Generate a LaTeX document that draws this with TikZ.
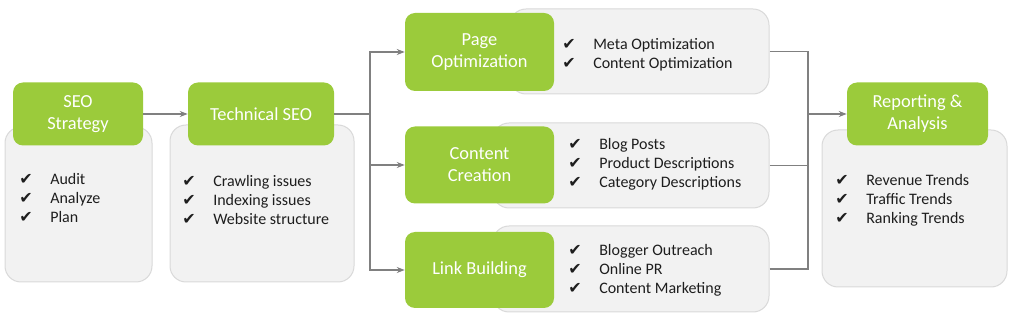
\documentclass[tikz,border=0pt]{standalone}
\usepackage{fontspec}
\setmainfont{Carlito}
\newfontfamily\symfont{DejaVu Sans}
\usetikzlibrary{arrows.meta}

\newcommand{\tickmark}{\makebox[23.25pt][l]{\symfont ✔}}

\begin{document}
\begin{tikzpicture}[x=0.75pt, y=-0.75pt, >={Stealth[length=6pt,width=4.5pt]}]

	% ==========================================
	% 1. COLOURS AND STYLES
	% ==========================================
	\definecolor{leafcol}{RGB}{155, 203, 59}   % green title boxes
	\definecolor{panelcol}{RGB}{242, 242, 242} % light grey panels
	\definecolor{rimcol}{RGB}{217, 217, 217}   % panel border
	\definecolor{wirecol}{RGB}{128, 128, 128}  % connector lines
	\definecolor{inkcol}{RGB}{30, 30, 30}      % list text

	\tikzset{
		titlebox/.style={fill=leafcol, rounded corners=7.5pt, text=white, align=center,
			font=\fontsize{13.8}{16.5}\selectfont, inner sep=0pt},
		panel/.style={fill=panelcol, draw=rimcol, line width=0.75pt, rounded corners=12pt, inner sep=0pt},
		ticklist/.style={anchor=west, align=left, inner sep=0pt, text=inkcol,
			font=\fontsize{12}{14.25}\selectfont},
		wire/.style={draw=wirecol, line width=1.1pt}
	}

	\useasboundingbox (0,0) rectangle (1024,327);

	% ==========================================
	% 2. GREY PANELS (BEHIND)
	% ==========================================
	\node[panel, minimum width=110.25pt, minimum height=116.25pt] (stratbg) at (78.5,204.5) {};
	\node[panel, minimum width=138pt, minimum height=117.75pt] (techbg) at (262,203.5) {};
	\node[panel, minimum width=194.25pt, minimum height=63.75pt] (pagebg) at (639.5,51.5) {};
	\node[panel, minimum width=207pt, minimum height=63.75pt] (contbg) at (631,165.5) {};
	\node[panel, minimum width=207pt, minimum height=64.5pt] (linkbg) at (631,269) {};
	\node[panel, minimum width=138.75pt, minimum height=117.75pt] (reportbg) at (914.5,208.5) {};

	% ==========================================
	% 3. GREEN TITLE BOXES
	% ==========================================
	\node[titlebox, minimum width=97.5pt, minimum height=47.25pt] (strat) at (78,114) {SEO\\Strategy};
	\node[titlebox, minimum width=109.5pt, minimum height=47.25pt] (tech) at (261,114) {Technical SEO};
	\node[titlebox, minimum width=111.75pt, minimum height=58.5pt] (page) at (479.5,52) {Page\\Optimization};
	\node[titlebox, minimum width=111.75pt, minimum height=57.75pt] (cont) at (479.5,165) {Content\\Creation};
	\node[titlebox, minimum width=111.75pt, minimum height=57pt] (link) at (479.5,270) {Link Building};
	\node[titlebox, minimum width=105.75pt, minimum height=47.25pt] (report) at (917.5,114) {Reporting \&\\Analysis};

	% ==========================================
	% 4. CHECK LISTS
	% ==========================================
	\node[ticklist] (stratlist) at (19,198) {\tickmark Audit\\\tickmark Analyze\\\tickmark Plan};
	\node[ticklist] (techlist) at (182,200) {\tickmark Crawling issues\\\tickmark Indexing issues\\\tickmark Website structure};
	\node[ticklist] (pagelist) at (562,54.5) {\tickmark Meta Optimization\\\tickmark Content Optimization};
	\node[ticklist] (contlist) at (568,164) {\tickmark Blog Posts\\\tickmark Product Descriptions\\\tickmark Category Descriptions};
	\node[ticklist] (linklist) at (568,270) {\tickmark Blogger Outreach\\\tickmark Online PR\\\tickmark Content Marketing};
	\node[ticklist] (reportlist) at (835,200) {\tickmark Revenue Trends\\\tickmark Traffic Trends\\\tickmark Ranking Trends};

	% ==========================================
	% 5. CONNECTORS
	% ==========================================
	\coordinate (split) at (370,114);
	\coordinate (merge) at (808,114);

	\draw[wire, ->] (strat) -- (tech);
	\draw[wire] (tech) -- (split);
	\draw[wire, ->] (split) |- (page);
	\draw[wire, ->] (split) |- (cont);
	\draw[wire, ->] (split) |- (link);

	\draw[wire] (pagebg.east) -| (merge);
	\draw[wire] (contbg.east) -| (merge);
	\draw[wire] (linkbg.east) -| (merge);
	\draw[wire, ->] (merge) -- (report);

\end{tikzpicture}
\end{document}
